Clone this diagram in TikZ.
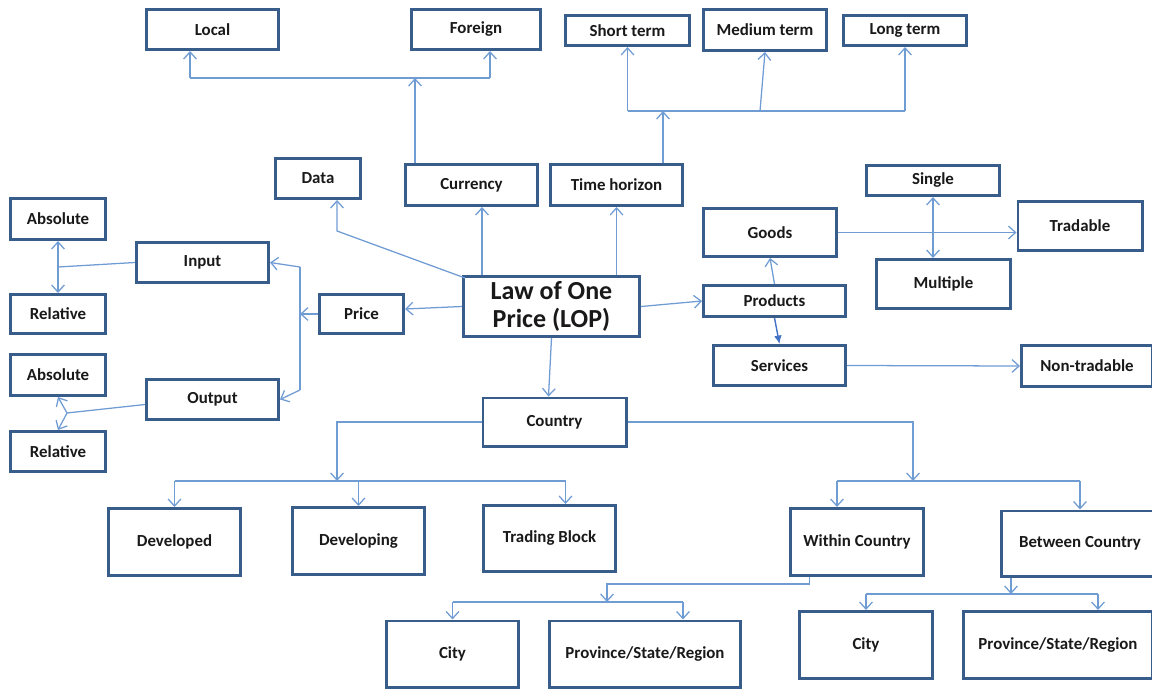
\documentclass[tikz,border=0pt]{standalone}
\usepackage{fontspec}
\setmainfont{Carlito}
\usepackage{tikz}
\usetikzlibrary{arrows.meta}
\definecolor{boxblue}{RGB}{56,93,138}
\definecolor{linkblue}{RGB}{112,156,212}
\definecolor{headblue}{RGB}{68,114,196}
\definecolor{txtgray}{RGB}{25,25,25}

\begin{document}
\begin{tikzpicture}[x=0.025cm, y=-0.025cm, % one unit is one pixel of the sketch, y runs down
        box/.style 2 args={draw=boxblue, line width=2.1pt, fill=white, text=txtgray, inner sep=0pt,
            font=\bfseries\fontsize{12}{14}\selectfont,
            minimum width=#1*0.025cm-2.1pt, minimum height=#2*0.025cm-2.1pt},
        link/.style={draw=linkblue, line width=0.9pt},
        solidlink/.style={draw=headblue, line width=1pt, -{Latex[length=6pt,width=5.5pt]}},
        >={Straight Barb[length=5pt,width=9pt]}]
    \useasboundingbox (0,0) rectangle (1152,689);

    % centre of the map
    \node[box={179}{63}, font=\bfseries\fontsize{18.5}{19.5}\selectfont, align=center] (lop) at (551.5,306.5) {Law of One\\Price (LOP)};

    % top row
    \node[box={135}{43}] (local) at (212.5,29.5) {Local};
    \node[box={132}{43}] (foreign) at (476,29.5) {Foreign};
    \node[box={127}{33}] (shortterm) at (627.5,30.5) {Short term};
    \node[box={126}{44}] (medterm) at (765,30) {Medium term};
    \node[box={126}{33}] (longterm) at (905,30.5) {Long term};

    \node[box={88}{43}] (data) at (318,178.5) {Data};
    \node[box={135}{44}] (currency) at (471.5,185) {Currency};
    \node[box={135}{44}] (timehor) at (616.5,185) {Time horizon};

    % right side
    \node[box={136}{33}] (single) at (933,180.5) {Single};
    \node[box={136}{51}] (goods) at (770,232.5) {Goods};
    \node[box={127}{52}] (tradable) at (1080,226) {Tradable};
    \node[box={137}{52}] (multiple) at (943.5,284) {Multiple};
    \node[box={145}{34}] (products) at (774.5,301) {Products};
    \node[box={135}{43}] (services) at (779.5,365.5) {Services};
    \node[box={134}{44}] (nontrad) at (1087,366) {Non-tradable};

    % left side
    \node[box={98}{44}] (absin) at (58,219) {Absolute};
    \node[box={135}{43}] (input) at (202.5,262.5) {Input};
    \node[box={87}{42}] (price) at (361.5,314) {Price};
    \node[box={98}{42}] (relin) at (58,314) {Relative};
    \node[box={98}{44}] (absout) at (58,375) {Absolute};
    \node[box={135}{43}] (output) at (212.5,399.5) {Output};
    \node[box={98}{43}] (relout) at (58,451.5) {Relative};

    % country branch
    \node[box={146}{51}] (country) at (554.5,422) {Country};
    \node[box={135}{70}] (developed) at (174.5,542) {Developed};
    \node[box={135}{70}] (developing) at (358.5,541) {Developing};
    \node[box={135}{69}] (tradeblock) at (549.5,538.5) {Trading Block};
    \node[box={136}{70}] (within) at (857,542) {Within Country};
    \node[box={160}{68}] (between) at (1080,543.5) {Between Country};
    \node[box={135}{69}] (cityw) at (452.5,654) {City};
    \node[box={194}{69}] (provw) at (645,654) {Province/State/Region};
    \node[box={136}{70}] (cityb) at (866,645) {City};
    \node[box={192}{70}] (provb) at (1058,645) {Province/State/Region};

    % junction points of the elbow lines
    \coordinate (curbus) at (415,78);
    \coordinate (lbus) at (190,78);
    \coordinate (fbus) at (490,78);
    \coordinate (tbus) at (663,111);
    \coordinate (ptop) at (300,267);
    \coordinate (pbot) at (300,390);
    \coordinate (injoin) at (58,267);
    \coordinate (outjoin) at (67,413);
    \coordinate (cbusl) at (337,481);
    \coordinate (cbusr) at (913,481);
    \coordinate (wbus) at (607,602);
    \coordinate (bbus) at (1011,594);

    % from the centre
    \draw[link,->] ([xshift=0.5cm]lop.north west) -- ([xshift=0.5cm]lop.north west |- currency.south);
    \draw[link,->] (timehor.south |- lop.north) -- (timehor.south);
    \draw[link,->] ([xshift=0.075cm,yshift=-0.075cm]lop.north west) -- ++(-128,-47) -- ([xshift=0.475cm]data.south);
    \draw[link,->] (lop.west) -- ([yshift=0.125cm]price.east);
    \draw[link,->] (lop.east) -- (products.west);
    \draw[link,->] (lop.south) -- ([xshift=-0.15cm]country.north);

    % currency and time horizon
    \draw[link,->] (curbus |- currency.north) -- (curbus);
    \draw[link] (lbus) -- (fbus);
    \draw[link,->] (lbus) -- (lbus |- local.south);
    \draw[link,->] (fbus) -- (fbus |- foreign.south);
    \draw[link,->] (tbus |- timehor.north) -- (tbus);
    \draw[link] (shortterm.south |- tbus) -- (longterm.south |- tbus);
    \draw[link,->] (shortterm.south |- tbus) -- (shortterm.south);
    \draw[link,->] ([xshift=-0.125cm]medterm.south |- tbus) -- (medterm.south);
    \draw[link,->] (longterm.south |- tbus) -- (longterm.south);

    % price, input and output
    \draw[link,->] (price.west) -- (price.west -| ptop);
    \draw[link] (ptop) -- (pbot);
    \draw[link,->] (ptop) -- (input.east);
    \draw[link,->] (pbot) -- (output.east);
    \draw[link] (input.west) -- (injoin);
    \draw[link,<->] (absin.south) -- (relin.north);
    \draw[link] ([yshift=-0.125cm]output.west) -- (outjoin);
    \draw[link,->] (outjoin) -- (absout.south);
    \draw[link,->] (outjoin) -- (relout.north);

    % products
    \draw[link,->] (products.north) -- (goods.south);
    \draw[solidlink] (products.south) -- (services.north);
    \draw[link,->] (goods.east) -- (goods.east -| tradable.west);
    \draw[link,<->] (single.south) -- (single.south |- multiple.north);
    \draw[link,->] (services.east) -- (nontrad.west);

    % country
    \draw[link,->] (country.west) -| (cbusl);
    \draw[link] (developed.north |- cbusl) -- ([xshift=0.4cm]tradeblock.north |- cbusl);
    \draw[link,->] (developed.north |- cbusl) -- (developed.north);
    \draw[link,->] (developing.north |- cbusl) -- (developing.north);
    \draw[link,->] ([xshift=0.4cm]tradeblock.north |- cbusl) -- ([xshift=0.4cm]tradeblock.north);
    \draw[link,->] (country.east) -| (cbusr);
    \draw[link] ([xshift=-0.5cm]within.north |- cbusr) -- (between.north |- cbusr);
    \draw[link,->] ([xshift=-0.5cm]within.north |- cbusr) -- ([xshift=-0.5cm]within.north);
    \draw[link,->] (between.north |- cbusr) -- (between.north);

    % within and between country
    \draw[link,->] ([xshift=-1.19cm]within.south) -- ++(0,7) -| (wbus);
    \draw[link] (cityw.north |- wbus) -- ([xshift=0.95cm]provw.north |- wbus);
    \draw[link,->] (cityw.north |- wbus) -- (cityw.north);
    \draw[link,->] ([xshift=0.95cm]provw.north |- wbus) -- ([xshift=0.95cm]provw.north);
    \draw[link,->] (bbus |- between.south) -- (bbus);
    \draw[link] (cityb.north |- bbus) -- ([xshift=1cm]provb.north |- bbus);
    \draw[link,->] (cityb.north |- bbus) -- (cityb.north);
    \draw[link,->] ([xshift=1cm]provb.north |- bbus) -- ([xshift=1cm]provb.north);
\end{tikzpicture}
\end{document}
